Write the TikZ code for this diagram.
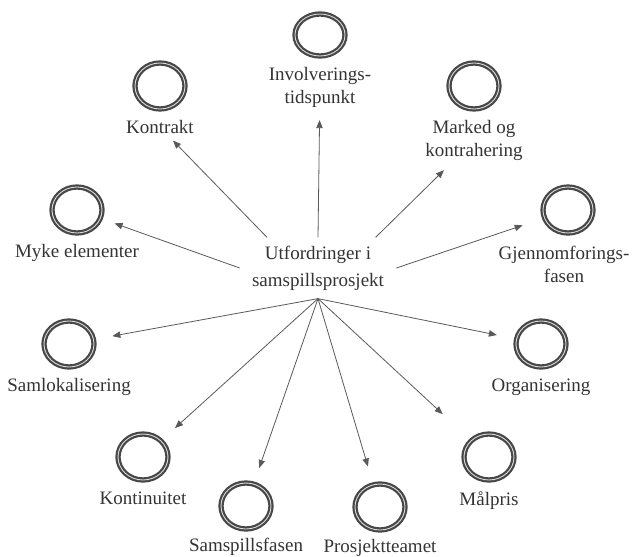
\documentclass[tikz,border=0pt]{standalone}
\usepackage{fontspec}
\setmainfont{Liberation Serif}
\usetikzlibrary{arrows.meta,positioning,shapes.geometric}

\begin{document}
\begin{tikzpicture}[x=0.5pt,y=-0.5pt]
	\tikzstyle{ring} = [ellipse, draw=black!72, line width=1.1pt, double=white!85!black,
	double distance=0.45pt, minimum width=25pt, minimum height=23pt, inner sep=0pt]
	\tikzstyle{lbl} = [text=black!80, align=center, inner sep=1pt,
	font=\fontsize{9.5}{11.5}\selectfont]
	\tikzstyle{centre} = [text=black!80, align=center, inner xsep=6pt, inner ysep=4pt,
	font=\fontsize{9.5}{13.5}\selectfont]
	\tikzstyle{arrow} = [draw=black!65, line width=0.4pt, -{Triangle[length=4pt,width=3.2pt]}]
	\useasboundingbox (0,0) rectangle (633,557);
	% centre
	\node (challenge) [centre] at (318,268) {Utfordringer i\\samspillsprosjekt};
	% rings
	\node (involv) [ring, minimum height=21pt] at (320,35) {};
	\node (kontrakt) [ring] at (160,86) {};
	\node (marked) [ring] at (474,86) {};
	\node (myke) [ring] at (77,210) {};
	\node (gjennom) [ring] at (568,210) {};
	\node (samlok) [ring] at (69,344) {};
	\node (organ) [ring] at (541,344) {};
	\node (kontinuitet) [ring] at (143,457) {};
	\node (malpris) [ring] at (489,457) {};
	\node (samspill) [ring] at (246,506) {};
	\node (team) [ring] at (380,507) {};
	% labels
	\node (involvTxt) [lbl, below=4pt of involv] {Involverings-\\tidspunkt};
	\node (kontraktTxt) [lbl, below=4pt of kontrakt] {Kontrakt};
	\node (markedTxt) [lbl, below=4pt of marked] {Marked og\\kontrahering};
	\node (mykeTxt) [lbl, below=4pt of myke] {Myke elementer};
	\node (gjennomTxt) [lbl, below=5pt of gjennom, xshift=-2pt] {Gjennomforings-\\fasen};
	\node (samlokTxt) [lbl, below=4pt of samlok] {Samlokalisering};
	\node (organTxt) [lbl, below=4pt of organ] {Organisering};
	\node (kontinuitetTxt) [lbl, below=4pt of kontinuitet] {Kontinuitet};
	\node (malprisTxt) [lbl, below=4pt of malpris] {Målpris};
	\node (samspillTxt) [lbl, below=3pt of samspill] {Samspillsfasen};
	\node (teamTxt) [lbl, below=3pt of team] {Prosjektteamet};
	% arrows
	\draw [arrow, shorten >=5pt] (challenge.north) -- (involvTxt);
	\draw [arrow, shorten >=3pt] (challenge.149) -- (kontraktTxt);
	\draw [arrow, shorten >=5pt] (challenge.28) -- (markedTxt);
	\draw [arrow, shorten >=7pt] (challenge.west) -- (myke);
	\draw [arrow, shorten >=11pt] (challenge.east) -- (gjennom);
	\draw [arrow, shorten >=9pt] (challenge.south) -- (samlok);
	\draw [arrow, shorten >=9.5pt] (challenge.south) -- (organ);
	\draw [arrow, shorten >=9pt] (challenge.south) -- (kontinuitet);
	\draw [arrow, shorten >=19pt] (challenge.south) -- (malpris);
	\draw [arrow, shorten >=8pt] (challenge.south) -- (samspill);
	\draw [arrow, shorten >=9pt] (challenge.south) -- (team);
\end{tikzpicture}
\end{document}
